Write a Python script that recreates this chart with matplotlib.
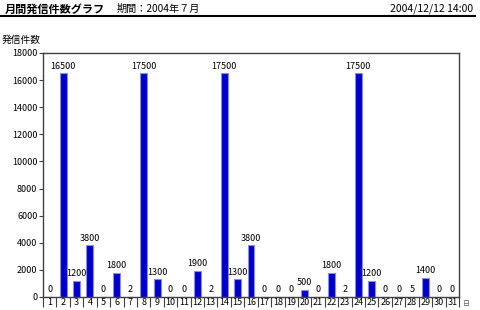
import matplotlib
matplotlib.use("Agg")
import matplotlib.pyplot as plt
from matplotlib.lines import Line2D

plt.rcParams['font.family'] = ['Noto Sans CJK JP', 'DejaVu Sans']

days = list(range(1, 32))
day_labels = [str(d) for d in days]
bar_heights = [0, 16500, 1200, 3800, 0, 1800, 2, 16500, 1300, 0, 0, 1900, 2, 16500, 1300, 3800,
               0, 0, 0, 500, 0, 1800, 2, 16500, 1200, 0, 0, 5, 1400, 0, 0]
value_labels = ["0", "16500", "1200", "3800", "0", "1800", "2", "17500", "1300", "0", "0", "1900", "2",
                "17500", "1300", "3800", "0", "0", "0", "500", "0", "1800", "2", "17500", "1200", "0",
                "0", "5", "1400", "0", "0"]
yticks = [0, 2000, 4000, 6000, 8000, 10000, 12000, 14000, 16000, 18000]

title = "月間発信件数グラフ"
period = "期間：2004年７月"
stamp = "2004/12/12 14:00"
ylabel = "発信件数"
xunit = "日"

W, H = 480, 310
fig = plt.figure(figsize=(W / 100, H / 100), dpi=100)
fig.patch.set_facecolor('white')

ax = fig.add_axes([43 / W, (H - 297) / H, 416 / W, 244 / H])
ax.bar(days, bar_heights, width=0.52, color='#0000cc', edgecolor='#8c8ce6', linewidth=0.8)
for d, h, lab in zip(days, bar_heights, value_labels):
    ax.annotate(lab, (d, h), xytext=(0, 2), textcoords='offset points',
                ha='center', va='bottom', fontsize=6.5, color='black')

ax.set_xlim(0.5, 31.5)
ax.set_ylim(0, 18000)
ax.set_yticks(yticks)
ax.set_yticklabels([str(v) for v in yticks], fontsize=6.5)
ax.set_xticks(days)
ax.set_xticklabels(day_labels, fontsize=6.5)
ax.set_xticks([d + 0.5 for d in [0] + days], minor=True)
ax.tick_params(axis='x', which='major', length=0, pad=1)
ax.tick_params(axis='x', which='minor', length=7, width=0.8, color='#404040', direction='out')
ax.tick_params(axis='y', length=3, width=0.8, color='#404040', pad=1)
for s in ax.spines.values():
    s.set_color('#404040')
    s.set_linewidth(1.0)

fig.text(5 / W, 1 - 9 / H, title, fontsize=8, fontweight='bold', va='center', ha='left')
fig.text(117 / W, 1 - 9 / H, period, fontsize=7.3, va='center', ha='left')
fig.text(473 / W, 1 - 9 / H, stamp, fontsize=7.5, va='center', ha='right')
fig.add_artist(Line2D([0, 475 / W], [1 - 16 / H, 1 - 16 / H], color='black', linewidth=1.5,
                      transform=fig.transFigure))
fig.text(2 / W, 1 - 40 / H, ylabel, fontsize=7, va='center', ha='left')
fig.text(466 / W, 1 - 304 / H, xunit, fontsize=5, va='center', ha='center', color='#555555')

fig.savefig('out.png', dpi=100)
